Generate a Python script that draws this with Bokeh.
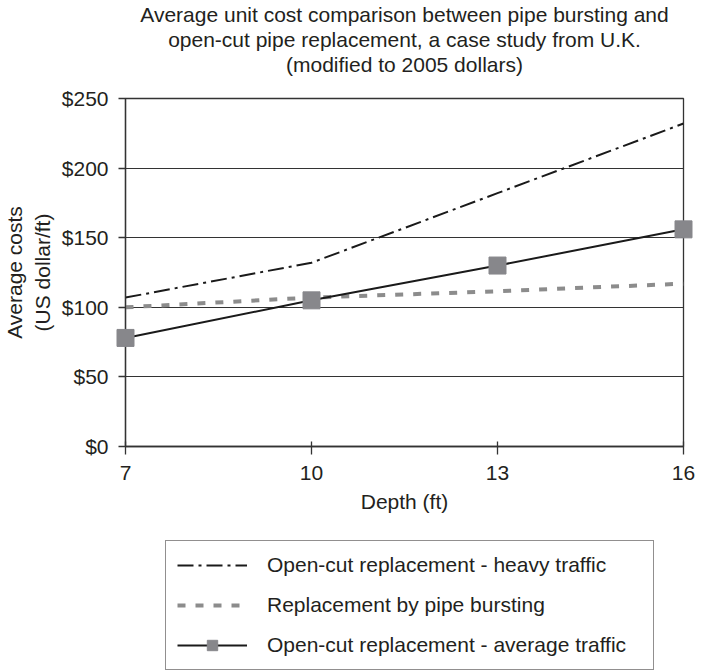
import math
from bokeh.plotting import figure
from bokeh.layouts import column
from bokeh.models import Range1d, FixedTicker, NumeralTickFormatter, Legend, LegendItem, Title
from bokeh.embed import file_html
from bokeh.resources import INLINE

# ---- data ----
depth = [7, 10, 13, 16]
heavy_traffic = [107, 132, 182, 232]
pipe_bursting = [100, 107, 111.5, 117]
average_traffic = [78, 105, 130, 156]
y_ticks = [0, 50, 100, 150, 200, 250]
x_ticks = [7, 10, 13, 16]

labels = [
    "Open-cut replacement - heavy traffic",
    "Replacement by pipe bursting",
    "Open-cut replacement - average traffic",
]
title_lines = [
    "Average unit cost comparison between pipe bursting and",
    "open-cut pipe replacement, a case study from U.K.",
    "(modified to 2005 dollars)",
]

FONT = "Liberation Sans"
TXT = "#231f20"
AX = "#333333"
FS = "21px"
HEAVY = dict(line_color="#1a1a1a", line_width=2, line_dash="16 5 3 5")
BURST = dict(line_color="#8c8c8c", line_width=4, line_dash="8 10")
AVG = dict(line_color="#1a1a1a", line_width=2)
SQ = dict(marker="square", fill_color="#87878b", line_color="#87878b")

p = figure(frame_width=558, frame_height=348, output_backend="svg",
           toolbar_location=None, title=None,
           x_range=Range1d(7, 16), y_range=Range1d(0, 250),
           min_border_left=122, min_border_right=14, min_border_top=97,
           min_border_bottom=90)

# blank spacer between the plot and the title block
p.add_layout(Title(text=" ", text_font=FONT, text_font_size="19px", standoff=0), "above")
# title: one Title per line, added from the line nearest the plot outward
for line in reversed(title_lines):
    t = Title(text=line, align="center", text_font=FONT, text_font_size=FS,
              text_font_style="normal", text_color=TXT, standoff=0)
    p.add_layout(t, "above")

# axes
p.yaxis.ticker = FixedTicker(ticks=y_ticks)
p.yaxis.formatter = NumeralTickFormatter(format="$0")
p.xaxis.ticker = FixedTicker(ticks=x_ticks)
for ax in (p.xaxis, p.yaxis):
    ax.axis_line_color = AX
    ax.axis_line_width = 1.3
    ax.major_tick_line_color = AX
    ax.major_tick_line_width = 1.3
    ax.minor_tick_line_color = None
    ax.major_label_text_font = FONT
    ax.major_label_text_font_size = FS
    ax.major_label_text_color = TXT
    ax.axis_label_text_font = FONT
    ax.axis_label_text_font_size = FS
    ax.axis_label_text_font_style = "normal"
    ax.axis_label_text_color = TXT
p.yaxis.major_tick_out = 7
p.yaxis.major_tick_in = 0
p.yaxis.major_label_standoff = 10
p.yaxis.axis_label = "Average costs\n(US dollar/ft)"
p.yaxis.axis_label_standoff = 5
p.xaxis.major_tick_out = 8
p.xaxis.major_tick_in = 5
p.xaxis.major_label_standoff = 11
p.xaxis.axis_label = "Depth (ft)"
p.xaxis.axis_label_standoff = 7

p.xgrid.visible = False
p.ygrid.grid_line_color = AX
p.ygrid.grid_line_width = 1.2
p.outline_line_color = AX
p.outline_line_width = 1.3
p.outline_line_alpha = 1

# series
p.line(depth, heavy_traffic, **HEAVY)
p.line(depth, pipe_bursting, **BURST)
p.line(depth, average_traffic, **AVG)
p.scatter(depth, average_traffic, size=17, level="overlay", **SQ)

# legend in its own blank figure below the chart
lg = figure(frame_width=694, frame_height=135, output_backend="svg",
            toolbar_location=None, title=None,
            x_range=Range1d(0, 1), y_range=Range1d(0, 1),
            min_border_left=0, min_border_right=0, min_border_top=0,
            min_border_bottom=0)
lg.axis.visible = False
lg.grid.visible = False
lg.outline_line_color = None
nan = [math.nan]
l_heavy = lg.line(nan, nan, **HEAVY)
l_burst = lg.line(nan, nan, **BURST)
l_avg = lg.line(nan, nan, **AVG)
l_sq = lg.scatter(nan, nan, size=11, **SQ)

legend = Legend(
    items=[
        LegendItem(label=labels[0], renderers=[l_heavy]),
        LegendItem(label=labels[1], renderers=[l_burst]),
        LegendItem(label=labels[2], renderers=[l_avg, l_sq]),
    ],
    location=(165, 1),
    glyph_width=70, glyph_height=26, label_height=26, spacing=14,
    padding=11, label_standoff=20, label_width=375,
    border_line_color=TXT, border_line_width=1.5,
    label_text_font=FONT, label_text_font_size=FS, label_text_color=TXT,
    background_fill_color="white", background_fill_alpha=1,
)
lg.add_layout(legend)

layout = column(p, lg, spacing=0)
open("out.html", "w").write(file_html(layout, INLINE))
